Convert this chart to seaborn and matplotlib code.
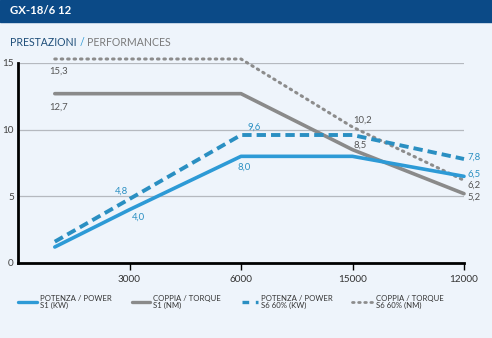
import matplotlib
matplotlib.use("Agg")
import matplotlib.pyplot as plt
from matplotlib.lines import Line2D
import seaborn as sns
import pandas as pd

# ---- data ----
tick_labels = ["3000", "6000", "15000", "12000"]
x_pos = [0.33, 1, 2, 3, 4]
power_s1 = [1.2, 4.0, 8.0, 8.0, 6.5]
torque_s1 = [12.7, 12.7, 12.7, 8.5, 5.2]
power_s6 = [1.6, 4.8, 9.6, 9.6, 7.8]
torque_s6 = [15.3, 15.3, 15.3, 10.2, 6.2]

BG = "#eef4fb"
HEADER = "#0b4a87"
BLUE = "#2d9ad6"
BLUE2 = "#2a8fc2"
GRAY = "#8a8a8a"
GRAY2 = "#8c8c8c"

sns.set_theme(style="white")
plt.rcParams['font.family'] = ['Lato', 'DejaVu Sans']

fig = plt.figure(figsize=(4.92, 3.38), dpi=100, facecolor=BG)
ax = fig.add_axes([18/492, 1-263/338, (464-18)/492, 200/338])
ax.set_facecolor(BG)

df = pd.DataFrame({"x": x_pos, "p1": power_s1, "t1": torque_s1,
                   "p6": power_s6, "t6": torque_s6})

# grid lines
for yv in [5, 10, 15]:
    ax.axhline(yv, color="#b5b9bf", lw=0.9, zorder=0)

sns.lineplot(data=df, x="x", y="t6", ax=ax, color=GRAY2, lw=2.2,
             linestyle=(0, (0.5, 1.6)), dash_capstyle="round", clip_on=False)
sns.lineplot(data=df, x="x", y="t1", ax=ax, color=GRAY, lw=2.6, clip_on=False)
sns.lineplot(data=df, x="x", y="p6", ax=ax, color=BLUE2, lw=2.8,
             linestyle=(0, (2.4, 1.3)), clip_on=False)
sns.lineplot(data=df, x="x", y="p1", ax=ax, color=BLUE, lw=2.6, clip_on=False)

ax.set_xlim(0, 4)
ax.set_ylim(0, 15)
ax.set_xticks([1, 2, 3, 4])
ax.set_xticklabels(tick_labels)
ax.set_yticks([0, 5, 10, 15])
ax.set_xlabel("")
ax.set_ylabel("")
for s in ["top", "right"]:
    ax.spines[s].set_visible(False)
for s in ["left", "bottom"]:
    ax.spines[s].set_color("black")
    ax.spines[s].set_linewidth(2.0)
ax.tick_params(axis="x", direction="out", length=5, width=1, color="black",
               labelsize=7.2, labelcolor="#333333", pad=4, bottom=True)
ax.tick_params(axis="y", length=0, labelsize=7.2, labelcolor="#444444", pad=3, left=True)
ax.spines["bottom"].set_zorder(5)

# value labels
lab_kw = dict(fontsize=6.8, clip_on=False)
def lab(x, y, t, c, ha="left"):
    ax.text(x, y, t, color=c, ha=ha, va="center", **lab_kw)

lab(x_pos[0] - 0.05, 14.4, "15,3", "#555555")
lab(x_pos[0] - 0.05, 11.7, "12,7", "#555555")
lab(1 - 0.13, 5.4, "4,8", BLUE2)
lab(1 + 0.02, 3.4, "4,0", BLUE2)
lab(2 - 0.03, 7.2, "8,0", BLUE2)
lab(2 + 0.06, 10.2, "9,6", BLUE2)
lab(3 + 0.01, 10.7, "10,2", "#555555")
lab(3 + 0.01, 8.85, "8,5", "#555555")
lab(4 + 0.03, 7.9, "7,8", BLUE2)
lab(4 + 0.03, 6.68, "6,5", BLUE2)
lab(4 + 0.03, 5.8, "6,2", "#555555")
lab(4 + 0.03, 4.95, "5,2", "#555555")

# header
fig.patches.append(plt.Rectangle((0, 1-22/338), 1, 22/338, transform=fig.transFigure,
                                 color=HEADER, zorder=0))
fig.text(10/492, 1-11/338, "GX-18/6 12", color="white", fontsize=8.2,
         fontweight="bold", va="center", ha="left")
t1 = fig.text(10/492, 1-42/338, "PRESTAZIONI", color="#1f4e79", fontsize=7.6,
              va="center", ha="left")
fig.canvas.draw()
bb = t1.get_window_extent()
t2 = fig.text(bb.x1/492 + 3/492, 1-42/338, "/", color="#2d9ad6", fontsize=7.6,
              va="center", ha="left")
fig.canvas.draw()
bb2 = t2.get_window_extent()
fig.text(bb2.x1/492 + 3/492, 1-42/338, "PERFORMANCES", color="#7a7a7a", fontsize=7.6,
         va="center", ha="left")

# legend
leg_items = [
    (18, 37, dict(color=BLUE, lw=2.4), "POTENZA / POWER\nS1 (KW)"),
    (132, 150, dict(color=GRAY, lw=2.4), "COPPIA / TORQUE\nS1 (NM)"),
    (242, 258, dict(color=BLUE2, lw=2.4, linestyle=(0, (2.0, 2.0))), "POTENZA / POWER\nS6 60% (KW)"),
    (352, 373, dict(color=GRAY2, lw=2.0, linestyle=(0, (0.6, 1.6)), dash_capstyle="round"),
     "COPPIA / TORQUE\nS6 60% (NM)"),
]
for x0, x1, kw, txt in leg_items:
    fig.add_artist(Line2D([x0/492, x1/492], [1-302/338, 1-302/338],
                          transform=fig.transFigure, **kw))
    fig.text((x1+3)/492, 1-302/338, txt, color="#333333", fontsize=5.6,
             va="center", ha="left", linespacing=1.05)

fig.savefig("out.png", dpi=100, facecolor=BG)
